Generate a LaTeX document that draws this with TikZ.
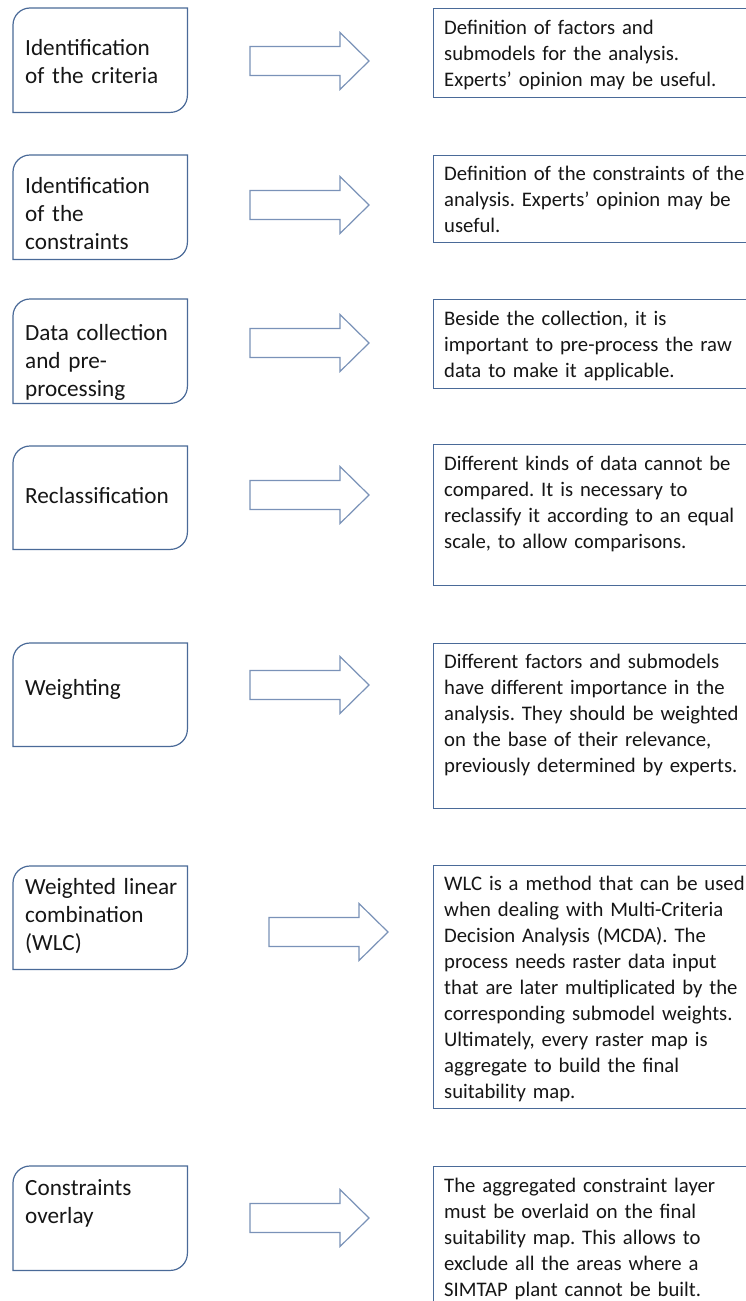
\documentclass[tikz,border=0pt]{standalone}
\usepackage{fontspec}
\setmainfont{Carlito}
\usetikzlibrary{calc}
\definecolor{boxblue}{RGB}{74,106,152}
\definecolor{arrblue}{RGB}{122,146,184}
\definecolor{txtcol}{RGB}{22,22,22}
\frenchspacing
\tikzset{
  lshape/.style={minimum width=174pt, minimum height=104pt, inner sep=0pt, anchor=north west},
  rshape/.style={draw=boxblue, line width=1.2pt, minimum width=340pt, inner sep=0pt, anchor=north west},
  lline/.style={draw=boxblue, line width=1.2pt},
  arrline/.style={draw=arrblue, line width=1.2pt, line join=miter},
  ltext/.style={anchor=base west, inner sep=0pt, text width=170pt, align=left, text=txtcol,
    font=\fontsize{23.2}{28}\selectfont},
  rtext/.style={anchor=base west, inner sep=0pt, text width=330pt, align=left, text=txtcol,
    font=\fontsize{20.7}{26}\selectfont},
  barrow/.pic={\draw[arrline] (0pt,14.5pt) -- (90pt,14.5pt) -- (90pt,28.5pt) -- (119pt,0pt)
     -- (90pt,-28.5pt) -- (90pt,-14.5pt) -- (0pt,-14.5pt) -- cycle;}
}
\newcommand\lboxoutline[1]{%
  \draw[lline] ($(#1.north west)+(0pt,-17pt)$) arc[start angle=180,end angle=90,radius=17pt]
    -- (#1.north east) -- ($(#1.south east)+(0pt,17pt)$) arc[start angle=0,end angle=-90,radius=17pt]
    -- (#1.south west) -- cycle;}
\begin{document}
\begin{tikzpicture}[x=1pt,y=1pt]
\useasboundingbox[fill=white] (0,0) rectangle (746,-1301);
\clip (0,0) rectangle (746,-1301);

% ---------- row 1
\node[lshape] (b1) at (13,-8) {};
\lboxoutline{b1}
\node[ltext] (t1) at (25,-55) {Identification\\of the criteria};
\coordinate (a1) at (250,-61);
\pic at (a1) {barrow};
\node[rshape, minimum height=89pt] (r1) at (433,-8) {};
\node[rtext] (d1) at (444,-34) {Definition of factors and\\submodels for the analysis.\\Experts’ opinion may be useful.};

% ---------- row 2
\node[lshape] (b2) at (13,-155) {};
\lboxoutline{b2}
\node[ltext] (t2) at (25,-193) {Identification\\of the\\constraints};
\coordinate (a2) at (250,-205);
\pic at (a2) {barrow};
\node[rshape, minimum height=87pt] (r2) at (433,-155) {};
\node[rtext] (d2) at (444,-180) {Definition of the constraints of the\\analysis. Experts’ opinion may be\\useful.};

% ---------- row 3
\node[lshape] (b3) at (13,-299) {};
\lboxoutline{b3}
\node[ltext] (t3) at (25,-340) {Data collection\\and pre-\\processing};
\coordinate (a3) at (250,-343);
\pic at (a3) {barrow};
\node[rshape, minimum height=89pt] (r3) at (433,-299) {};
\node[rtext] (d3) at (444,-325) {Beside the collection, it is\\important to pre-process the raw\\data to make it applicable.};

% ---------- row 4
\node[lshape, minimum height=103pt] (b4) at (13,-446) {};
\lboxoutline{b4}
\node[ltext] (t4) at (25,-503) {Reclassification};
\coordinate (a4) at (250,-495);
\pic at (a4) {barrow};
\node[rshape, minimum height=141pt] (r4) at (433,-444) {};
\node[rtext] (d4) at (444,-470) {Different kinds of data cannot be\\compared. It is necessary to\\reclassify it according to an equal\\scale, to allow comparisons.};

% ---------- row 5
\node[lshape, minimum height=103pt] (b5) at (13,-643) {};
\lboxoutline{b5}
\node[ltext] (t5) at (25,-695) {Weighting};
\coordinate (a5) at (250,-685);
\pic at (a5) {barrow};
\node[rshape, minimum height=165pt] (r5) at (433,-643) {};
\node[rtext] (d5) at (444,-668) {Different factors and submodels\\have different importance in the\\analysis. They should be weighted\\on the base of their relevance,\\previously determined by experts.};

% ---------- row 6
\node[lshape, minimum height=103pt] (b6) at (13,-866) {};
\lboxoutline{b6}
\node[ltext] (t6) at (25,-894) {Weighted linear\\combination\\(WLC)};
\coordinate (a6) at (269,-932);
\pic at (a6) {barrow};
\node[rshape, minimum height=243pt] (r6) at (433,-865) {};
\node[rtext] (d6) at (444,-890) {WLC is a method that can be used\\when dealing with Multi-Criteria\\Decision Analysis (MCDA). The\\process needs raster data input\\that are later multiplicated by the\\corresponding submodel weights.\\Ultimately, every raster map is\\aggregate to build the final\\suitability map.};

% ---------- row 7
\node[lshape] (b7) at (13,-1166) {};
\lboxoutline{b7}
\node[ltext] (t7) at (25,-1195) {Constraints\\overlay};
\coordinate (a7) at (250,-1218);
\pic at (a7) {barrow};
\node[rshape, minimum height=160pt] (r7) at (433,-1166) {};
\node[rtext] (d7) at (444,-1192) {The aggregated constraint layer\\must be overlaid on the final\\suitability map. This allows to\\exclude all the areas where a\\SIMTAP plant cannot be built.};
\end{tikzpicture}
\end{document}
